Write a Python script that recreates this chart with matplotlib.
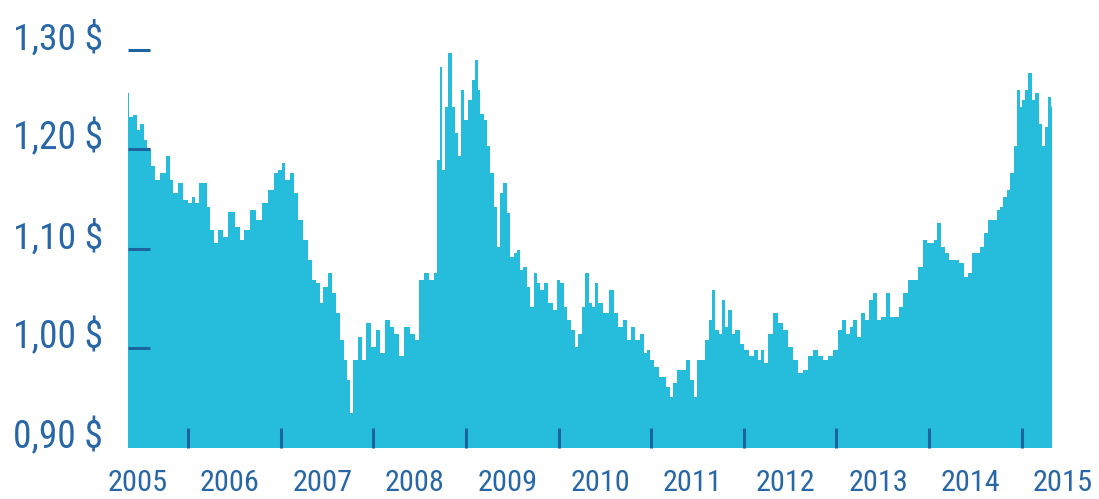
import matplotlib
matplotlib.use("Agg")
import matplotlib.pyplot as plt
import matplotlib.transforms as mtransforms
import numpy as np

# dates as decimal years, USD per CAD
years = [
    2004.90, 2004.92, 2004.98, 2005.01, 2005.05, 2005.09, 2005.12, 2005.18, 2005.21, 2005.27,
    2005.34, 2005.37, 2005.41, 2005.46, 2005.52, 2005.57, 2005.61, 2005.64, 2005.70, 2005.73,
    2005.77, 2005.81, 2005.84, 2005.90, 2005.95, 2006.02, 2006.08, 2006.13, 2006.18, 2006.26,
    2006.31, 2006.38, 2006.45, 2006.51,
    2006.54, 2006.58, 2006.62, 2006.67, 2006.71, 2006.76, 2006.81, 2006.87, 2006.90, 2006.96,
    2006.99, 2007.03, 2007.08, 2007.12, 2007.17, 2007.21, 2007.25, 2007.28, 2007.32, 2007.35,
    2007.41, 2007.44, 2007.50, 2007.55, 2007.61, 2007.64, 2007.70, 2007.75, 2007.80, 2007.86,
    2007.91, 2007.97, 2008.02, 2008.07, 2008.13, 2008.18, 2008.22,
    2008.25, 2008.28, 2008.31, 2008.34, 2008.38, 2008.42, 2008.45, 2008.48, 2008.51, 2008.54,
    2008.60, 2008.63, 2008.66, 2008.69, 2008.72, 2008.76, 2008.79, 2008.83, 2008.87, 2008.90,
    2008.94, 2008.97, 2009.01, 2009.05, 2009.08, 2009.12, 2009.15, 2009.19, 2009.23, 2009.26,
    2009.30, 2009.33, 2009.37, 2009.42, 2009.46, 2009.51, 2009.55, 2009.59, 2009.62, 2009.66,
    2009.71, 2009.75, 2009.78, 2009.82, 2009.86, 2009.89,
    2009.93, 2009.96, 2010.00, 2010.05, 2010.13, 2010.16, 2010.22, 2010.27, 2010.30, 2010.36,
    2010.40, 2010.45, 2010.49, 2010.52, 2010.56, 2010.61, 2010.65, 2010.68, 2010.74, 2010.77,
    2010.81, 2010.85, 2010.90, 2010.95, 2010.99, 2011.03, 2011.06, 2011.12, 2011.15, 2011.19,
    2011.22, 2011.26, 2011.30, 2011.33, 2011.37, 2011.40, 2011.44, 2011.48, 2011.53, 2011.58,
    2011.64, 2011.68, 2011.72, 2011.75, 2011.78, 2011.84, 2011.89, 2011.94, 2012.00, 2012.05,
    2012.11, 2012.16, 2012.21, 2012.27, 2012.32, 2012.38, 2012.43, 2012.48, 2012.54, 2012.59,
    2012.63, 2012.68, 2012.72, 2012.75, 2012.79, 2012.84, 2012.88, 2012.93, 2012.97, 2013.01,
    2013.06, 2013.11, 2013.15, 2013.22,
    2013.24, 2013.29, 2013.35, 2013.40, 2013.46, 2013.51, 2013.55, 2013.58, 2013.62, 2013.66,
    2013.70, 2013.74, 2013.80, 2013.85, 2013.91, 2013.94, 2014.00, 2014.03, 2014.09, 2014.12,
    2014.17, 2014.21, 2014.27, 2014.30, 2014.34, 2014.37, 2014.41, 2014.45, 2014.48, 2014.52,
    2014.54, 2014.57, 2014.61, 2014.64, 2014.68, 2014.72, 2014.75, 2014.79, 2014.82, 2014.85,
    2014.88,
]
rate = [
    1.257, 1.233, 1.235, 1.220, 1.226, 1.210, 1.200, 1.183, 1.169, 1.176,
    1.193, 1.169, 1.156, 1.166, 1.149, 1.146, 1.152, 1.146, 1.166, 1.166,
    1.142, 1.119, 1.106, 1.119, 1.112, 1.137, 1.122, 1.109, 1.119, 1.139,
    1.129, 1.146, 1.159, 1.176,
    1.179, 1.186, 1.169, 1.176, 1.156, 1.129, 1.109, 1.089, 1.069, 1.066,
    1.046, 1.062, 1.076, 1.056, 1.036, 1.009, 0.988, 0.968, 0.935, 0.988,
    1.012, 0.988, 1.026, 1.002, 1.019, 0.995, 1.029, 1.022, 1.015, 0.992,
    1.022, 1.015, 1.009, 1.069, 1.076, 1.069, 1.076,
    1.189, 1.283, 1.179, 1.243, 1.297, 1.243, 1.217, 1.193, 1.260, 1.230,
    1.250, 1.270, 1.290, 1.260, 1.236, 1.230, 1.203, 1.176, 1.142, 1.102,
    1.156, 1.166, 1.136, 1.092, 1.096, 1.099, 1.079, 1.082, 1.062, 1.042,
    1.076, 1.066, 1.059, 1.066, 1.046, 1.039, 1.069, 1.066, 1.042, 1.029,
    1.019, 1.002, 1.015, 1.042, 1.076, 1.046,
    1.042, 1.066, 1.046, 1.036, 1.059, 1.036, 1.022, 1.029, 1.009, 1.022,
    1.009, 1.015, 0.995, 0.998, 0.988, 0.981, 0.971, 0.971, 0.961, 0.951,
    0.965, 0.978, 0.978, 0.988, 0.968, 0.951, 0.988, 0.988, 1.009, 1.029,
    1.059, 1.019, 1.015, 1.049, 1.022, 1.039, 1.015, 1.019, 1.005, 0.998,
    0.992, 0.998, 0.988, 0.998, 0.985, 1.015, 1.036, 1.026, 1.019, 1.002,
    0.988, 0.975, 0.978, 0.992, 0.998, 0.992, 0.988, 0.992, 0.998, 1.019,
    1.029, 1.015, 1.022, 1.029, 1.012, 1.036, 1.029, 1.049, 1.056, 1.029,
    1.032, 1.056, 1.032, 1.032,
    1.042, 1.056, 1.069, 1.069, 1.082, 1.109, 1.106, 1.106, 1.109, 1.126,
    1.102, 1.096, 1.089, 1.089, 1.086, 1.072, 1.076, 1.096, 1.096, 1.102,
    1.116, 1.129, 1.129, 1.139, 1.142, 1.152, 1.159, 1.176, 1.203, 1.260,
    1.243, 1.250, 1.260, 1.277, 1.250, 1.257, 1.226, 1.203, 1.223, 1.253,
    1.243,
]

y_ticks = [0.90, 1.00, 1.10, 1.20, 1.30]
y_labels = ["0,90 $", "1,00 $", "1,10 $", "1,20 $", "1,30 $"]
year_labels = [str(y) for y in range(2005, 2016)]
tick_years = [y + 0.55 for y in range(2005, 2015)]

FILL = "#26bddc"
TICK = "#1c64a0"
TEXT = "#2767a8"
FONT = ["Roboto Condensed", "Liberation Sans Narrow", "Open Sans Condensed", "Liberation Sans"]


def fit_width(texts, target_px, renderer):
    # shrink/grow each text so it is about as wide as in the original
    for t in texts:
        w = t.get_window_extent(renderer).width
        if w > 0:
            t.set_fontsize(t.get_fontsize() * target_px / w)


def main():
    fig = plt.figure(figsize=(10.99, 4.99), dpi=100)
    ax = fig.add_axes([0.1165, 0.1022, 0.8408, 0.8176])

    ax.fill_between(years, 0.90, rate, color=FILL, linewidth=0, step="mid")
    ax.set_xlim(2004.90, 2014.88)
    ax.set_ylim(0.90, 1.31)

    for s in ax.spines.values():
        s.set_visible(False)

    ax.set_yticks(y_ticks)
    ax.set_yticklabels(y_labels, fontsize=26, color=TEXT, family=FONT)
    ax.tick_params(axis="y", direction="in", length=16, width=2.2, color=TICK, pad=18)
    for lab in ax.get_yticklabels():
        lab.set_verticalalignment("baseline")
    ax.yaxis.get_major_ticks()[0].tick1line.set_visible(False)

    ax.set_xticks(tick_years)
    ax.set_xticklabels([])
    ax.tick_params(axis="x", direction="in", length=14.5, width=2.2, color=TICK)

    trans = mtransforms.blended_transform_factory(ax.transData, ax.transAxes)
    xlabs = []
    for i, lab in enumerate(year_labels):
        xlabs.append(ax.text(2005 + i, -0.087, lab, transform=trans, ha="center",
                             va="center", fontsize=22, color=TEXT, family=FONT,
                             clip_on=False))

    fig.canvas.draw()
    renderer = fig.canvas.get_renderer()
    fit_width(ax.get_yticklabels(), 90, renderer)
    fit_width(xlabs, 60, renderer)

    fig.savefig("out.png", dpi=100)


if __name__ == "__main__":
    main()
